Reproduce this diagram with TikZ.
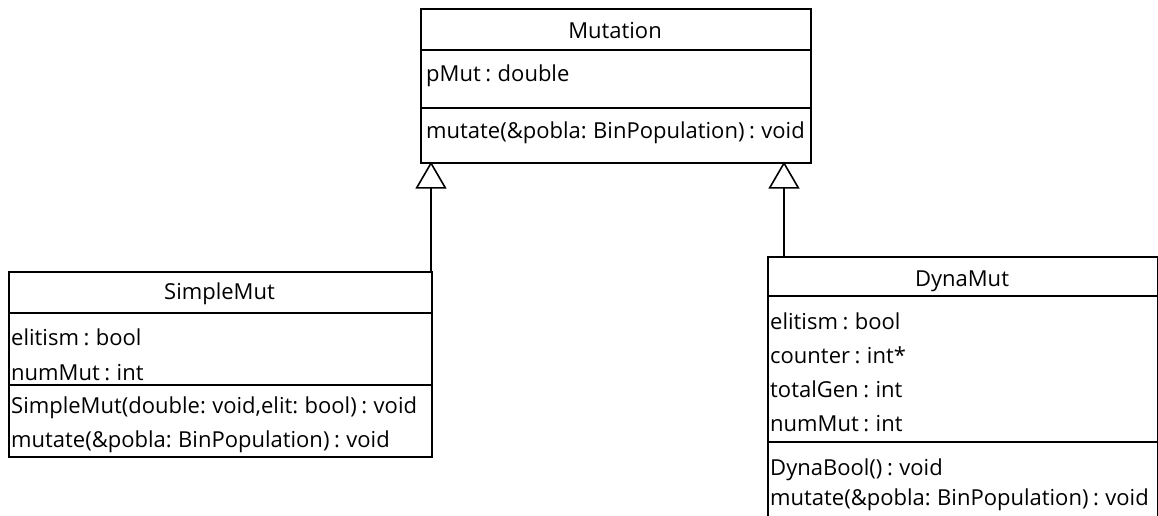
\documentclass[tikz,border=0pt]{standalone}
\usepackage{fontspec}
\setmainfont{Open Sans}[WordSpace=0.8]
\usetikzlibrary{arrows.meta}

\tikzset{
  classframe/.style={draw=black, line width=1.6pt, fill=white, rectangle,
    inner sep=0pt, anchor=north west},
  rule/.style={draw=black, line width=1.6pt},
  member/.style={anchor=base west, inner sep=0pt, font=\fontsize{22}{26}\selectfont},
  classname/.style={anchor=base, inner sep=0pt, font=\fontsize{22}{26}\selectfont},
  inherits/.style={draw=black, line width=1.6pt,
    -{Triangle[open, length=27pt, width=31pt, line width=1.6pt]}, shorten >=-2pt},
}

\begin{document}
\begin{tikzpicture}[x=1pt, y=-1pt]
\useasboundingbox[fill=white] (0,0) rectangle (1158,516);

% Mutation
\node[classframe, minimum width=390pt, minimum height=154pt] (mutation) at (420,8) {};
\draw[rule] (420,50) -- (810,50);
\draw[rule] (420,108) -- (810,108);
\node[classname] (mutationname) at (615,39) {Mutation};
\node[member] (mutpmut) at (426,82) {pMut : double};
\node[member] (mutmutate) at (426,138) {mutate(\&pobla: BinPopulation) : void};

% SimpleMut
\node[classframe, minimum width=423pt, minimum height=185pt] (simplemut) at (8,271) {};
\draw[rule] (8,313) -- (431,313);
\draw[rule] (8,385) -- (431,385);
\node[classname] (simplename) at (219.5,299) {SimpleMut};
\node[member] (smelitism) at (11,345) {elitism : bool};
\node[member] (smnummut) at (11,380) {numMut : int};
\node[member] (smctor) at (11,413) {SimpleMut(double: void,elit: bool) : void};
\node[member] (smmutate) at (11,447) {mutate(\&pobla: BinPopulation) : void};

% DynaMut (continues past the lower edge)
\node[classframe, minimum width=390pt, minimum height=280pt] (dynamut) at (767,256) {};
\draw[rule] (767,296) -- (1157,296);
\draw[rule] (767,442) -- (1157,442);
\node[classname] (dynaname) at (962,286) {DynaMut};
\node[member] (dmelitism) at (770,329) {elitism : bool};
\node[member] (dmcounter) at (770,363) {counter : int*};
\node[member] (dmtotalgen) at (770,397) {totalGen : int};
\node[member] (dmnummut) at (770,431) {numMut : int};
\node[member] (dmctor) at (770,475) {DynaBool() : void};
\node[member] (dmmutate) at (770,505) {mutate(\&pobla: BinPopulation) : void};

% Generalisation arrows
\coordinate (simpletop) at (431,271);
\coordinate (dynatop) at (784,256);
\draw[inherits] (simpletop) -- (simpletop |- mutation.south);
\draw[inherits] (dynatop) -- (dynatop |- mutation.south);
\end{tikzpicture}
\end{document}
